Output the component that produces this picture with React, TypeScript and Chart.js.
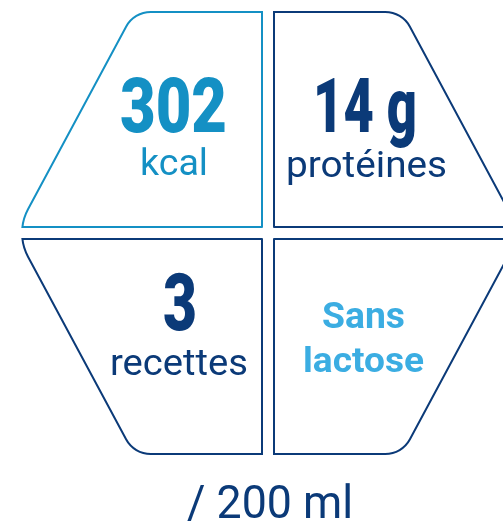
import React, { useEffect, useRef } from "react";
import { Chart, registerables } from "chart.js";

Chart.register(...registerables);

// ---- content ----
const tileValues = ["302", "14 g", "3"];
const tileUnits = ["kcal", "protéines", "recettes"];
const badgeLines = ["Sans", "lactose"];
const footerText = "/ 200 ml";

const LIGHT = "#1490c4";
const DARK = "#0b3a78";
const SKY = "#3badE2".toLowerCase();

const W = 503;
const H = 526;

function fitText(
  ctx: CanvasRenderingContext2D,
  text: string,
  cx: number,
  base: number,
  size: number,
  weight: string,
  width: number,
  color: string
) {
  ctx.save();
  ctx.font = `${weight} ${size}px Roboto, "DejaVu Sans", sans-serif`;
  const m = ctx.measureText(text).width;
  const sx = width / m;
  ctx.translate(cx, base);
  ctx.scale(sx, 1);
  ctx.textAlign = "center";
  ctx.textBaseline = "alphabetic";
  ctx.fillStyle = color;
  ctx.fillText(text, 0, 0);
  ctx.restore();
}

const infographic = {
  id: "infographic",
  afterDraw(chart: any) {
    const ctx: CanvasRenderingContext2D = chart.ctx;
    const sx = chart.scales.x;
    const sy = chart.scales.y;
    const X = (v: number) => sx.getPixelForValue(v);
    const Y = (v: number) => sy.getPixelForValue(v);

    // rounded hexagon
    const top = 12, bot = 454, mid = 233;
    const lx = 15.3, rx = 536 - 15.3;
    const tlx = 134, trx = 536 - 134;
    const hex = () => {
      ctx.beginPath();
      ctx.moveTo(X(268), Y(top));
      ctx.arcTo(X(trx), Y(top), X(rx), Y(mid), 28);
      ctx.arcTo(X(rx), Y(mid), X(trx), Y(bot), 50);
      ctx.arcTo(X(trx), Y(bot), X(tlx), Y(bot), 28);
      ctx.arcTo(X(tlx), Y(bot), X(lx), Y(mid), 28);
      ctx.arcTo(X(lx), Y(mid), X(tlx), Y(top), 50);
      ctx.arcTo(X(tlx), Y(top), X(268), Y(top), 28);
      ctx.closePath();
    };

    const quads = [
      { x0: -50, x1: 262, y0: 12, y1: 227, color: LIGHT },
      { x0: 274, x1: 600, y0: 12, y1: 227, color: DARK },
      { x0: -50, x1: 262, y0: 239, y1: 454, color: DARK },
      { x0: 274, x1: 600, y0: 239, y1: 454, color: DARK },
    ];
    ctx.lineWidth = 2;
    ctx.lineJoin = "round";
    for (const q of quads) {
      // hexagon stroke inside quadrant rect
      ctx.save();
      ctx.beginPath();
      ctx.rect(X(q.x0) - 1, Y(q.y0) - 1, X(q.x1) - X(q.x0) + 2, Y(q.y1) - Y(q.y0) + 2);
      ctx.clip();
      ctx.strokeStyle = q.color;
      hex();
      ctx.stroke();
      ctx.restore();
      // rect stroke inside hexagon
      ctx.save();
      hex();
      ctx.clip();
      ctx.strokeStyle = q.color;
      ctx.beginPath();
      ctx.rect(X(q.x0), Y(q.y0), X(q.x1) - X(q.x0), Y(q.y1) - Y(q.y0));
      ctx.stroke();
      ctx.restore();
    }

    // texts
    fitText(ctx, tileValues[0], X(173.5), Y(132), 76, "900", 107, LIGHT);
    fitText(ctx, tileUnits[0], X(174), Y(175), 36, "400", 68, LIGHT);
    fitText(ctx, tileValues[1], X(365), Y(132), 76, "900", 104, DARK);
    fitText(ctx, tileUnits[1], X(366.5), Y(177), 36, "400", 161, DARK);
    fitText(ctx, tileValues[2], X(180), Y(330), 80, "900", 34, DARK);
    fitText(ctx, tileUnits[2], X(179), Y(375), 36, "400", 138, DARK);
    fitText(ctx, badgeLines[0], X(363.5), Y(328), 36, "700", 83, SKY);
    fitText(ctx, badgeLines[1], X(363.5), Y(372), 35, "700", 121, SKY);
    fitText(ctx, footerText, X(270), Y(518), 46, "400", 166, DARK);
  },
};

export default function App() {
  const ref = useRef<HTMLCanvasElement | null>(null);
  useEffect(() => {
    if (!ref.current) return;
    const chart = new Chart(ref.current, {
      type: "scatter",
      data: { datasets: [{ data: [], showLine: false }] },
      options: {
        responsive: false,
        animation: false,
        layout: { padding: 0 },
        plugins: { legend: { display: false }, tooltip: { enabled: false } },
        scales: {
          x: { type: "linear", min: 0, max: W, display: false },
          y: { type: "linear", min: 0, max: H, reverse: true, display: false },
        },
      },
      plugins: [infographic],
    });
    return () => chart.destroy();
  }, []);
  return (
    <div style={{ position: "fixed", left: 0, top: 0, width: W, height: H, background: "#fff" }}>
      <canvas ref={ref} width={W} height={H} style={{ width: W, height: H }} />
    </div>
  );
}
